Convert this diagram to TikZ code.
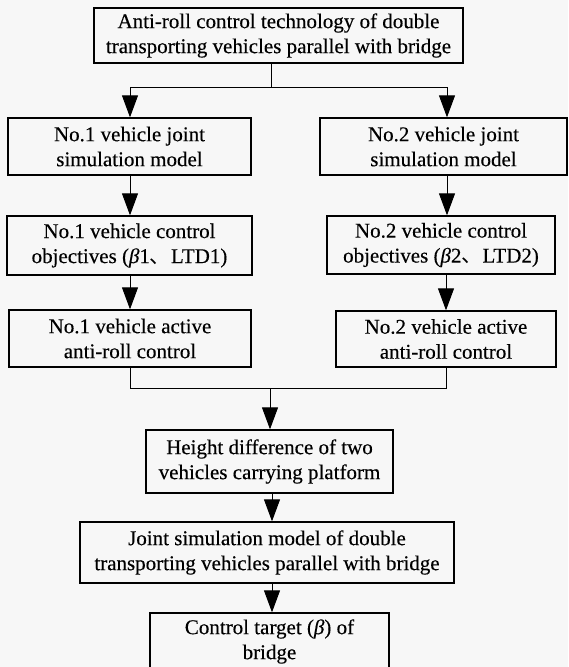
\documentclass[tikz,border=0pt]{standalone}
\usepackage{fontspec}
\setmainfont{Liberation Serif}[FakeBold=0.3]
\newfontfamily\cjk{Noto Sans CJK SC}
\usetikzlibrary{arrows.meta}
\begin{document}
\begin{tikzpicture}[x=1pt,y=-1pt,
  box/.style={draw, line width=1.3pt, align=center, inner sep=0pt,
    font=\fontsize{21}{25}\selectfont},
  arr/.style={-{Triangle[length=22pt,width=16pt]}, line width=1pt},
  conn/.style={line width=1pt}]
\useasboundingbox (0,0) rectangle (568,667);
\clip (0,0) rectangle (568,667);
\fill[white!97!black] (0,0) rectangle (568,667);
% nodes
\node[box, minimum width=369pt, minimum height=55pt] (top) at (278.5,35.5)
  {Anti-roll control technology of double\\transporting vehicles parallel with bridge};
\node[box, minimum width=243pt, minimum height=57pt] (L1) at (129.5,146.5)
  {No.1 vehicle joint\\simulation model};
\node[box, minimum width=247pt, minimum height=57pt] (R1) at (443.5,146.5)
  {No.2 vehicle joint\\simulation model};
\node[box, minimum width=245pt, minimum height=59pt] (L2) at (129.5,245.5)
  {No.1 vehicle control\\objectives (\textit{β}1{\cjk 、}LTD1)};
\node[box, minimum width=228pt, minimum height=58pt] (R2) at (441,245)
  {No.2 vehicle control\\objectives (\textit{β}2{\cjk 、}LTD2)};
\node[box, minimum width=242pt, minimum height=57pt] (L3) at (130,338.5)
  {No.1 vehicle active\\anti-roll control};
\node[box, minimum width=220pt, minimum height=56pt] (R3) at (446,339)
  {No.2 vehicle active\\anti-roll control};
\node[box, minimum width=247pt, minimum height=63pt] (H) at (269.5,461.5)
  {Height difference of two\\vehicles carrying platform};
\node[box, minimum width=374pt, minimum height=61pt] (J) at (267,552.5)
  {Joint simulation model of double\\transporting vehicles parallel with bridge};
\node[box, minimum width=239pt, minimum height=57pt] (C) at (269.5,641.5)
  {Control target (\textit{β}) of\\bridge};
% junction coordinates
\coordinate (j0) at (271,87);
\coordinate (jl) at (130,87);
\coordinate (jr) at (447,87);
\coordinate (ml) at (130,388);
\coordinate (mr) at (446,388);
\coordinate (mc) at (270,388);
\coordinate (cx) at (272,0);
% connectors
\draw[conn] (top.south -| j0) -- (j0);
\draw[conn] (jl) -- (jr);
\draw[arr] (jl) -- (jl |- L1.north);
\draw[arr] (jr) -- (jr |- R1.north);
\draw[arr] (L1.south -| jl) -- (L2.north -| jl);
\draw[arr] (L2.south -| jl) -- (L3.north -| jl);
\draw[arr] (R1.south -| jr) -- (R2.north -| jr);
\draw[arr] (R2.south -| mr) -- (R3.north -| mr);
\draw[conn] (L3.south -| ml) -- (ml) -- (mr) -- (R3.south -| mr);
\draw[arr] (mc) -- (H.north -| mc);
\draw[arr] (H.south -| cx) -- (J.north -| cx);
\draw[arr] (J.south -| cx) -- (C.north -| cx);
\end{tikzpicture}
\end{document}
